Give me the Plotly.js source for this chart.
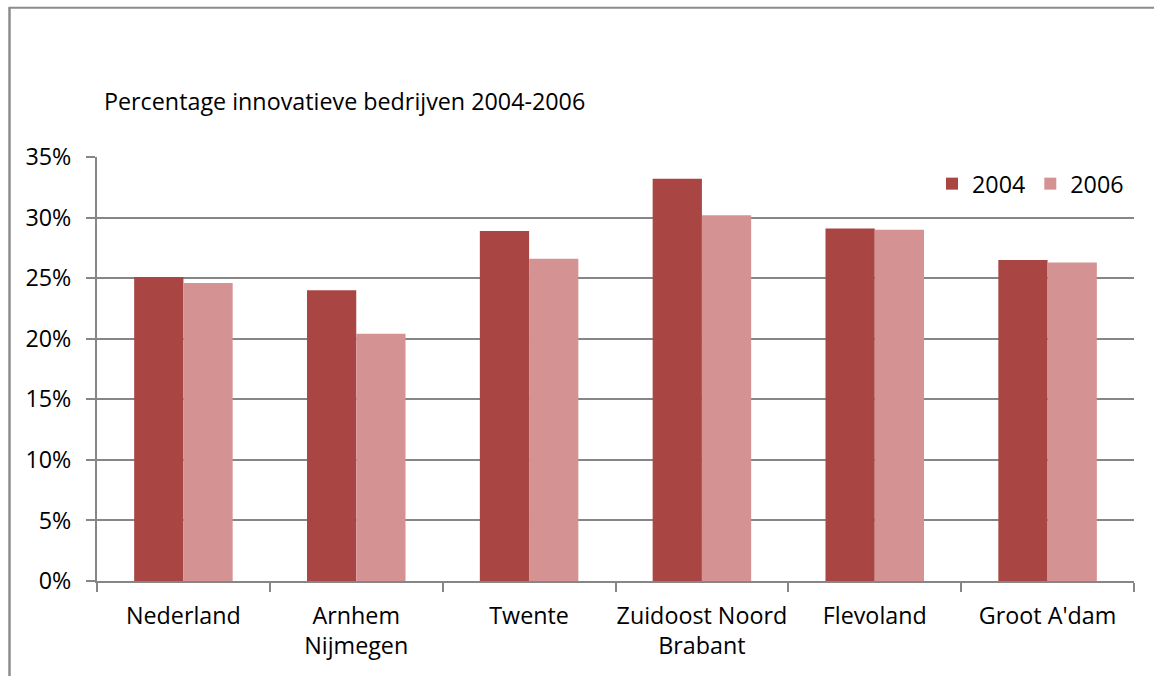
<!DOCTYPE html>
<html>
<head>
<meta charset="utf-8">
<script src="https://cdn.plot.ly/plotly-3.0.1.min.js"></script>
<style>
html,body{margin:0;padding:0;background:#fff;}
#chart{width:1154px;height:676px;}
</style>
</head>
<body>
<div id="chart"></div>
<script>
var categories = ["Nederland", "Arnhem<br>Nijmegen", "Twente", "Zuidoost Noord<br>Brabant", "Flevoland", "Groot A'dam"];
var values2004 = [0.251, 0.240, 0.289, 0.332, 0.291, 0.265];
var values2006 = [0.246, 0.204, 0.266, 0.302, 0.290, 0.263];
var yTickVals = [0, 0.05, 0.10, 0.15, 0.20, 0.25, 0.30, 0.35];
var yTickText = ["0%", "5%", "10%", "15%", "20%", "25%", "30%", "35%"];
var chartTitle = "Percentage innovatieve bedrijven 2004-2006";

var W = 1154, H = 676;
var L = 97, R = 1134, T = 157, B = 581;
function px(x){ return (x - L) / (R - L); }
function py(y){ return (B - y) / (B - T); }

var font = {family: "'Open Sans', 'Noto Sans', sans-serif", size: 23.3, color: "#000"};
var gray = "#868686";

var traces = [
  {type: "bar", name: "2004", x: categories, y: values2004,
   marker: {color: "#A94644", line: {width: 0}}, hoverinfo: "y"},
  {type: "bar", name: "2006", x: categories, y: values2006,
   marker: {color: "#D49392", line: {width: 0}}, hoverinfo: "y"}
];

var layout = {
  width: W, height: H,
  margin: {l: L, r: W - R, t: T, b: H - B, pad: 0},
  paper_bgcolor: "#fff", plot_bgcolor: "#fff",
  font: font,
  barmode: "group",
  bargap: 0.43,
  bargroupgap: 0,
  showlegend: true,
  legend: {orientation: "h", x: px(932), xanchor: "left", y: py(184), yanchor: "middle",
           font: font, bgcolor: "rgba(0,0,0,0)", borderwidth: 0, itemclick: false},
  title: {text: chartTitle, font: font, xref: "container", yref: "container",
          x: 104 / W, xanchor: "left", y: 1 - 102 / H, yanchor: "middle"},
  xaxis: {type: "category", tickson: "boundaries", ticks: "outside", ticklen: 9,
          tickwidth: 2, tickcolor: gray, showline: true, linecolor: gray, linewidth: 2,
          tickangle: 0, automargin: false,
          showgrid: false, zeroline: false, tickfont: font, ticklabelstandoff: 13, fixedrange: true},
  yaxis: {range: [0, 0.35], tickvals: yTickVals, ticktext: yTickText,
          ticks: "outside", ticklen: 9, tickwidth: 2, tickcolor: gray,
          showline: true, linecolor: gray, linewidth: 2, automargin: false,
          showgrid: true, gridcolor: gray, gridwidth: 2, zeroline: false,
          tickfont: font, ticklabelstandoff: 10, fixedrange: true},
  shapes: [
    {type: "line", xref: "paper", yref: "paper", x0: px(9.5), x1: px(9.5), y0: py(7.5), y1: py(H + 5),
     line: {color: "#8c8c8c", width: 2.5}},
    {type: "line", xref: "paper", yref: "paper", x0: px(8.5), x1: px(W + 5), y0: py(7.8), y1: py(7.8),
     line: {color: "#8c8c8c", width: 2}}
  ]
};

Plotly.newPlot("chart", traces, layout, {displayModeBar: false, staticPlot: true});
</script>
</body>
</html>
